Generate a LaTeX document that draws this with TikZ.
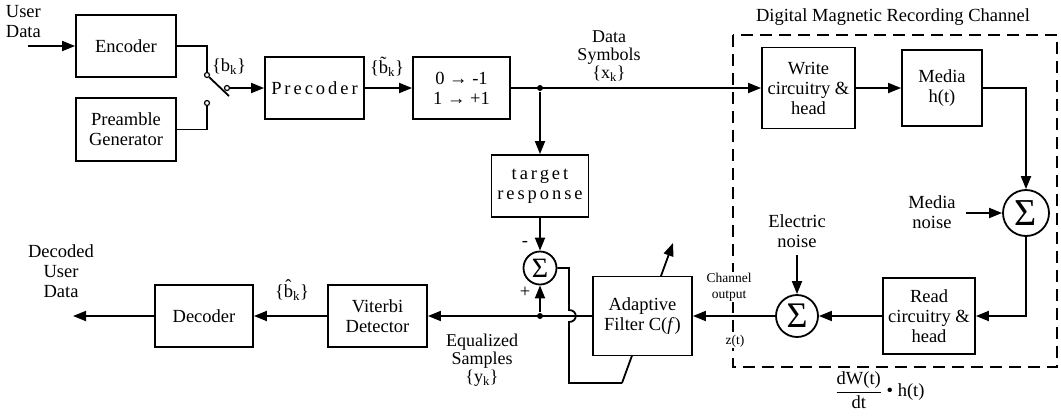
\documentclass[tikz,border=0pt]{standalone}
\usepackage{fontspec}
\setmainfont{Liberation Serif}
\newfontfamily\spacedfont[LetterSpace=16]{Liberation Serif}
\usetikzlibrary{arrows.meta}
\newcommand\dfont{\fontsize{18.5}{20}\selectfont}
\newcommand\sfont{\fontsize{13.5}{16}\selectfont}
\begin{document}
\begin{tikzpicture}[x=1pt,y=-1pt,line width=1.8pt,
  >={Triangle[length=13pt,width=10pt]},
  blk/.style={draw,fill=white,inner sep=0pt,align=center,font=\dfont},
  lbl/.style={inner sep=0pt,align=center,font=\dfont},
  sumnode/.style={draw,circle,inner sep=0pt},
  contact/.style={draw,circle,line width=1.2pt,inner sep=0pt,minimum size=5pt},
  dot/.style={fill,circle,inner sep=0pt,minimum size=6pt}]
\useasboundingbox (0,0) rectangle (1061,416);
% channel frame (drawn first, labels break it)
\draw[dashed,dash pattern=on 12pt off 7pt] (733,35) rectangle (1057,367);
% feedback path coordinates (drawn before the filter box, which hides it)
\coordinate (f1) at (569,268);
\coordinate (f2) at (569,310);
\coordinate (f3) at (569,322);
\coordinate (f4) at (569,383);
\coordinate (f5) at (622,383);
\coordinate (f6) at (673,243);
\draw[->] (f5) -- (f6);
% blocks
\node[blk,minimum width=100pt,minimum height=62pt] (enc) at (126,46) {Encoder};
\node[blk,minimum width=100pt,minimum height=63pt] (pre) at (126,129.5) {Preamble\\Generator};
\node[blk,minimum width=99pt,minimum height=62pt] (prec) at (314.5,88) {\spacedfont Precoder};
\node[blk,minimum width=97pt,minimum height=62pt] (map) at (461.5,88) {0 → -1\\1 → +1};
\node[blk,minimum width=93pt,minimum height=81pt] (write) at (808.5,88) {Write\\circuitry \&\\head};
\node[blk,minimum width=80pt,minimum height=76pt] (media) at (942,88) {Media\\h(t)};
\node[blk,minimum width=97pt,minimum height=62pt] (tr) at (540,186) {\spacedfont target\\\spacedfont response};
\node[sumnode,minimum size=33pt] (sum1) at (540,268) {\fontsize{28}{28}\selectfont Σ};
\node[blk,minimum width=99pt,minimum height=79pt] (adapt) at (642.5,316) {Adaptive\\Filter C(\textit{f})};
\node[blk,minimum width=99pt,minimum height=62pt] (vit) at (377.5,316) {Viterbi\\Detector};
\node[blk,minimum width=98pt,minimum height=62pt] (dec) at (204,316) {Decoder};
\node[sumnode,minimum size=42pt] (sum2) at (797,316) {\fontsize{36}{36}\selectfont Σ};
\node[blk,minimum width=92pt,minimum height=76pt] (read) at (929,316) {Read\\circuitry \&\\head};
\node[sumnode,minimum size=46pt] (sum3) at (1026,213) {\fontsize{38}{38}\selectfont Σ};
% labels
\node[lbl,anchor=west,align=left] (ud) at (5,22) {User\\Data};
\node[lbl] (bk) at (229,67) {\{b\textsubscript{k}\}};
\node[lbl] (btk) at (387,67) {\{\~b\textsubscript{k}\}};
\node[lbl,font=\fontsize{18}{18}\selectfont] (ds) at (609,56) {Data\\Symbols\\\{x\textsubscript{k}\}};
\node[lbl] (title) at (893,17) {Digital Magnetic Recording Channel};
\node[lbl] (mn) at (932,212) {Media\\noise};
\node[lbl] (en) at (797,231) {Electric\\noise};
\node[lbl,font=\sfont,fill=white,inner sep=1pt] (co) at (729,287) {Channel\\output};
\node[lbl,font=\sfont,fill=white,inner sep=1pt] (zt) at (735,341) {z(t)};
\node[lbl] (form) at (880,390) {$\displaystyle\frac{\mbox{\dfont dW(t)}}{\mbox{\dfont dt}}$ • h(t)};
\node[lbl] (dud) at (61,271) {Decoded\\User\\Data};
\node[lbl] (bhk) at (292,290) {\{\^b\textsubscript{k}\}};
\node[lbl,font=\fontsize{18}{18}\selectfont] (eq) at (482,360) {Equalized\\Samples\\\{y\textsubscript{k}\}};
\node[lbl] (minus) at (525,244) {-};
\node[lbl] (plus) at (525,292) {+};
% switch
\node[contact] (c1) at (207,75) {};
\node[contact] (c2) at (207,103) {};
\node[contact] (c3) at (227,88) {};
\coordinate (uin) at (28,46);
\coordinate (armend) at (229,96);
\draw[->] (uin) -- (enc.west);
\draw (enc.east) -| (c1.north);
\draw (pre.east) -| (c2.south);
\draw (c1.south east) -- (armend);
\draw[->] (c3.east) -- (prec.west);
\draw[->] (prec.east) -- (map.west);
% data symbols
\node[dot] (j1) at (540,88) {};
\draw[->] (map.east) -- (write.west);
\draw[->] (j1) -- (tr.north);
\draw[->] (tr.south) -- (sum1.north);
% channel
\draw[->] (write.east) -- (media.west);
\draw[->] (media.east) -| (sum3.north);
\coordinate (mnend) at (966,213);
\draw[->] (mnend) -- (sum3.west);
\draw[->] (sum3.south) |- (read.east);
\draw[->] (read.west) -- (sum2.east);
\coordinate (enend) at (797,255);
\draw[->] (enend) -- (sum2.north);
\draw[->] (sum2.west) -- (adapt.east);
% equalizer / detector
\node[dot] (j2) at (540,316) {};
\draw[->] (adapt.west) -- (vit.east);
\draw[->] (j2) -- (sum1.south);
\draw[->] (vit.west) -- (dec.east);
\coordinate (dout) at (73,316);
\draw[->] (dec.west) -- (dout);
% feedback with hop
\draw (sum1.east) -- (f1) -- (f2) .. controls (578,310) and (578,322) .. (f3) -- (f4) -- (f5);
\end{tikzpicture}
\end{document}
